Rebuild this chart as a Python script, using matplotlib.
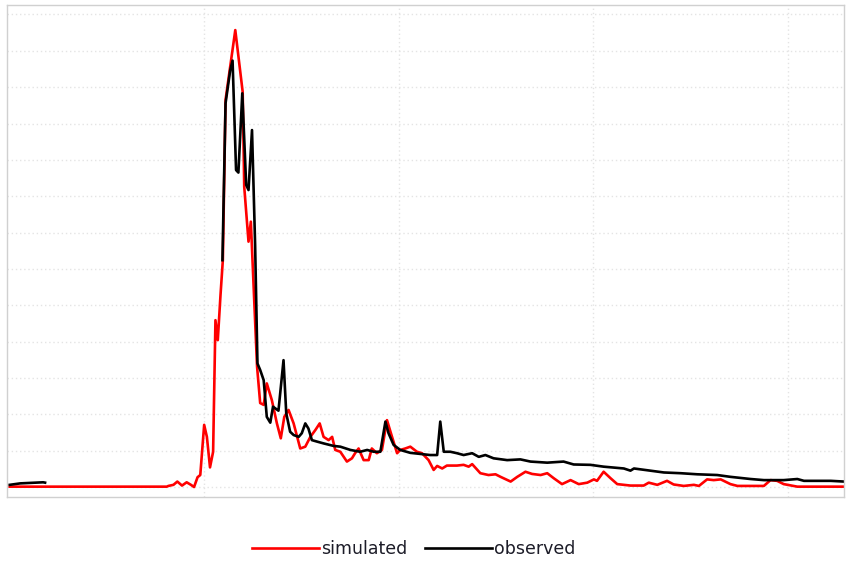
"""Simulated vs observed hydrograph, no axis labels."""
import numpy as np
import matplotlib
matplotlib.use("Agg")
import matplotlib.pyplot as plt

# simulated series (time, value)
sim_t = [0, 40.4, 40.8, 42.1, 43.1, 44.3, 45.5, 46.6, 47.4, 48.3, 49.0, 50.0, 50.7, 51.5,
         52.3, 52.9, 53.5, 54.2, 54.8, 55.5, 58.0, 59.9, 60.3, 61.4, 62.0, 63.6, 64.4,
         65.3, 66.1, 67.4, 68.7, 69.7, 70.6, 71.7, 73.0, 74.7, 76.0, 77.3, 78.6, 79.7,
         80.7, 82.0, 82.9, 83.7, 85.0, 86.7, 88.0, 88.8, 89.7, 91.0, 92.3, 93.1, 94.4,
         95.7, 97.0, 98.3, 99.6, 100.4, 101.7, 103.0, 104.7, 106.0, 107.7, 109.0, 109.9,
         111.2, 112.4, 115.0, 116.7, 118.0, 118.9, 121.0, 123.1, 124.9, 126.2, 128.8,
         130.5, 132.6, 134.3, 136.5, 138.2, 139.9, 142.0, 144.2, 146.3, 148.5, 150.2,
         151.0, 152.7, 154.5, 156.2, 159.6, 163.0, 164.3, 166.5, 169.0, 170.7, 173.3,
         175.9, 177.2, 179.3, 181.0, 182.8, 185.3, 187.1, 193.9, 195.6, 197.3, 199.0,
         202.5, 214.5]
sim_v = [0.1, 0.1, 0.3, 0.6, 1.5, 0.4, 1.3, 0.6, 0.0, 2.7, 3.3, 17.1, 13.8, 5.4,
         9.7, 45.9, 40.4, 52.8, 62.4, 106.5, 125.7, 108.7, 82.6, 67.5, 73.0, 33.1, 23.1,
         22.6, 28.5, 23.9, 17.5, 13.4, 19.3, 21.2, 17.5, 10.6, 11.1, 13.8, 15.7, 17.5,
         13.8, 12.9, 13.8, 10.2, 9.7, 7.0, 7.9, 9.3, 10.6, 7.4, 7.4, 10.6, 9.3,
         10.2, 18.4, 13.8, 9.3, 10.2, 10.6, 11.1, 9.7, 9.3, 7.4, 4.7, 5.8,
         5.1, 5.9, 5.9, 6.1, 5.6, 6.3, 3.8, 3.3, 3.5, 2.8, 1.5,
         2.8, 4.2, 3.6, 3.3, 3.8, 2.4, 0.8, 1.9, 0.8, 1.2, 2.1,
         1.7, 4.2, 2.4, 0.8, 0.4, 0.4, 1.2, 0.6, 1.7, 0.7, 0.3,
         0.6, 0.3, 2.1, 1.9, 2.1, 0.8, 0.3, 0.3, 1.9, 1.7, 0.8,
         0.1, 0.1]

# observed series, gap of missing records between the two parts
obs_t = [0, 2.7, 8.6, 9.1, 9.2,
         54.7, 55.5, 56.7, 57.3, 58.2, 58.8, 59.8, 60.8, 61.4, 62.3, 63.1, 63.7, 64.4,
         65.3, 66.1, 67.0, 67.7, 69.1, 70.4, 71.1, 72.1, 73.0, 74.3, 75.1, 76.0, 76.8,
         77.7, 79.0, 80.7, 83.3, 85.0, 87.6, 90.1, 91.9, 93.6, 95.3, 96.6, 97.4, 98.7,
         100.4, 103.0, 105.6, 108.1, 109.9, 110.7, 111.6, 113.3, 115.0, 116.7, 118.9,
         120.6, 122.3, 124.4, 127.9, 131.3, 133.9, 138.2, 142.4, 145.0, 149.3, 152.7,
         157.9, 159.6, 160.5, 168.2, 172.5, 176.8, 181.9, 185.3, 190.5, 193.9, 199.0,
         202.5, 204.2, 211.1, 214.5]
obs_v = [0.6, 1.0, 1.3, 1.2, np.nan,
         62.4, 105.6, 114.7, 117.3, 87.2, 86.5, 108.3, 83.1, 81.7, 98.2, 66.6, 34.0, 32.2,
         29.4, 19.3, 17.7, 22.1, 21.0, 34.9, 20.3, 15.2, 14.3, 13.8, 14.8, 17.5, 16.1,
         12.9, 12.5, 12.0, 11.3, 11.1, 10.2, 9.7, 10.2, 9.7, 9.7, 18.0, 14.8, 11.6,
         10.2, 9.4, 9.1, 8.8, 8.8, 18.0, 9.7, 9.7, 9.3, 8.8, 9.3,
         8.3, 8.8, 7.9, 7.4, 7.6, 7.0, 6.7, 7.0, 6.2, 6.1, 5.6,
         5.1, 4.5, 5.1, 4.0, 3.8, 3.5, 3.3, 2.8, 2.2, 1.9, 1.9,
         2.2, 1.7, 1.7, 1.5]

fig = plt.figure(figsize=(8.6, 5.63), dpi=100)
ax = fig.add_axes([0.0081, 0.1172, 0.9733, 0.8739])

ax.plot(sim_t, sim_v, color="#ff0000", linewidth=1.9, label="simulated")
ax.plot(obs_t, obs_v, color="black", linewidth=1.9, label="observed")

ax.set_xlim(-0.7, 214.5)
ax.set_ylim(-2.75, 132.6)
ax.set_xticks([50, 100, 150, 200])
ax.set_yticks(np.arange(0, 131, 10))
ax.tick_params(length=0, labelbottom=False, labelleft=False)
ax.grid(True, color="#e4e4e4", linestyle=(0, (1, 2)), linewidth=1)
for s in ax.spines.values():
    s.set_color("#d0d0d0")
    s.set_linewidth(1)

leg = fig.legend(loc="center", bbox_to_anchor=(0.481, 0.024), ncol=2, frameon=False,
                 fontsize=12.5, handlelength=3.85, handletextpad=0.15, columnspacing=1.0)
for txt in leg.get_texts():
    txt.set_color("#1c1c28")

fig.savefig("out.png", dpi=100)
